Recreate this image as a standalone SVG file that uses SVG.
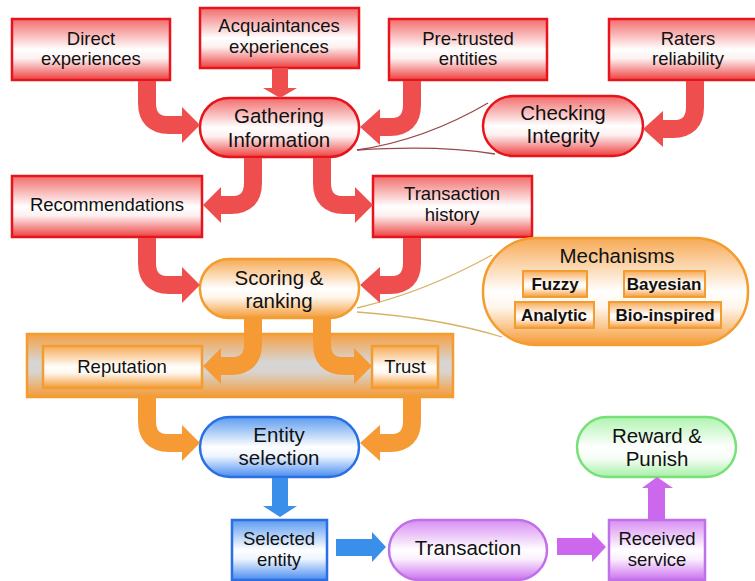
<svg xmlns="http://www.w3.org/2000/svg" width="755" height="581" viewBox="0 0 755 581">
<defs>
<linearGradient id="gRed" x1="0" y1="0" x2="0" y2="1">
<stop offset="0" stop-color="#f26c6c"/><stop offset="0.5" stop-color="#ffffff"/><stop offset="0.65" stop-color="#fdf0f0"/><stop offset="1" stop-color="#ee4040"/>
</linearGradient>
<linearGradient id="gOr" x1="0" y1="0" x2="0" y2="1">
<stop offset="0" stop-color="#f7aa55"/><stop offset="0.5" stop-color="#ffffff"/><stop offset="0.65" stop-color="#fff6ec"/><stop offset="1" stop-color="#f59a35"/>
</linearGradient>
<linearGradient id="gBand" x1="0" y1="0" x2="0" y2="1">
<stop offset="0" stop-color="#f6a044"/><stop offset="0.45" stop-color="#d6d6d6"/><stop offset="0.6" stop-color="#d8d4d0"/><stop offset="1" stop-color="#f59a35"/>
</linearGradient>
<linearGradient id="gBlue" x1="0" y1="0" x2="0" y2="1">
<stop offset="0" stop-color="#5c9cf0"/><stop offset="0.5" stop-color="#ffffff"/><stop offset="0.65" stop-color="#eef5fe"/><stop offset="1" stop-color="#4a8cf0"/>
</linearGradient>
<linearGradient id="gPur" x1="0" y1="0" x2="0" y2="1">
<stop offset="0" stop-color="#d88ef2"/><stop offset="0.5" stop-color="#ffffff"/><stop offset="0.65" stop-color="#fbf0fe"/><stop offset="1" stop-color="#cc70ee"/>
</linearGradient>
<linearGradient id="gGrn" x1="0" y1="0" x2="0" y2="1">
<stop offset="0" stop-color="#b0f4b0"/><stop offset="0.5" stop-color="#ffffff"/><stop offset="0.7" stop-color="#f4fdf4"/><stop offset="1" stop-color="#a6f0a6"/>
</linearGradient>
</defs>
<style>
text{font-family:"Liberation Sans",Arial,sans-serif;fill:#111;text-anchor:middle}
.bt{font-size:18.5px}
.pt{font-size:20.5px}
.mt{font-size:17px;font-weight:bold}
.red{fill:url(#gRed);stroke:#e8141c;stroke-width:2.5}
.or{fill:url(#gOr);stroke:#f39c2f;stroke-width:2.5}
.band{fill:url(#gBand);stroke:#f39c2f;stroke-width:2.5}
.blue{fill:url(#gBlue);stroke:#2a70e4;stroke-width:2.5}
.pur{fill:url(#gPur);stroke:#c070e8;stroke-width:2.5}
.grn{fill:url(#gGrn);stroke:#78e078;stroke-width:2.5}
.sr{fill:none;stroke:#ef4e4e;stroke-width:18}
.so{fill:none;stroke:#f59a35;stroke-width:18}
.hr{fill:#ef4e4e}
.ho{fill:#f59a35}
.hb{fill:#3a8fea}
.hp{fill:#cc68ee}
.thinr{fill:none;stroke:#9a4a4a;stroke-width:1.3}
.thino{fill:none;stroke:#d6b466;stroke-width:1.3}
</style>

<g id="direct"><rect class="red" x="12" y="19" width="158" height="61"/><text class="bt" x="91" y="45">Direct</text><text class="bt" x="91" y="65">experiences</text></g>
<g id="acquaintances"><rect class="red" x="200" y="8" width="159" height="60"/><text class="bt" x="279" y="32">Acquaintances</text><text class="bt" x="279" y="53">experiences</text></g>
<g id="pretrusted"><rect class="red" x="389" y="19" width="158" height="61"/><text class="bt" x="468" y="45">Pre-trusted</text><text class="bt" x="468" y="65">entities</text></g>
<g id="raters"><rect class="red" x="609" y="19" width="160" height="61"/><text class="bt" x="688" y="45">Raters</text><text class="bt" x="688" y="65">reliability</text></g>
<g id="gathering"><rect class="red" x="200" y="98" width="159" height="59" rx="29"/><text class="pt" x="279" y="123">Gathering</text><text class="pt" x="279" y="147">Information</text></g>
<g id="checking"><rect class="red" x="483" y="96" width="160" height="60" rx="30"/><text class="pt" x="563" y="120">Checking</text><text class="pt" x="563" y="143">Integrity</text></g>
<g id="recommendations"><rect class="red" x="12" y="176" width="190" height="61"/><text class="bt" x="107" y="211">Recommendations</text></g>
<g id="history"><rect class="red" x="373" y="176" width="159" height="61"/><text class="bt" x="452" y="200">Transaction</text><text class="bt" x="452" y="221">history</text></g>
<g id="scoring"><rect class="or" x="200" y="259" width="159" height="59" rx="29"/><text class="pt" x="279" y="285">Scoring &amp;</text><text class="pt" x="279" y="308">ranking</text></g>
<g id="mechanisms"><rect class="or" x="483" y="238" width="265" height="107" rx="53"/><text class="pt" x="617" y="263">Mechanisms</text>
<g id="fuzzy"><rect class="or" x="523" y="271" width="64" height="26" style="stroke-width:2"/><text class="mt" x="555" y="290">Fuzzy</text></g>
<g id="bayesian"><rect class="or" x="624" y="271" width="81" height="26" style="stroke-width:2"/><text class="mt" x="664" y="290">Bayesian</text></g>
<g id="analytic"><rect class="or" x="515" y="302" width="79" height="26" style="stroke-width:2"/><text class="mt" x="554" y="321">Analytic</text></g>
<g id="bioinspired"><rect class="or" x="609" y="302" width="112" height="26" style="stroke-width:2"/><text class="mt" x="665" y="321">Bio-inspired</text></g>
</g>
<g id="band"><rect class="band" x="27" y="334" width="426" height="63"/></g>
<g id="reputation"><rect class="or" x="43" y="346" width="159" height="42"/><text class="bt" x="122" y="373">Reputation</text></g>
<g id="trust"><rect class="or" x="372" y="346" width="66" height="42"/><text class="bt" x="405" y="373">Trust</text></g>
<g id="entity"><rect class="blue" x="200" y="417" width="159" height="60" rx="30"/><text class="pt" x="279" y="442">Entity</text><text class="pt" x="279" y="465">selection</text></g>
<g id="selected"><rect class="blue" x="232" y="520" width="95" height="60"/><text class="bt" x="279" y="545">Selected</text><text class="bt" x="279" y="566">entity</text></g>
<g id="transaction"><rect class="pur" x="389" y="520" width="158" height="60" rx="30"/><text class="pt" x="468" y="555">Transaction</text></g>
<g id="received"><rect class="pur" x="609" y="520" width="96" height="60"/><text class="bt" x="657" y="545">Received</text><text class="bt" x="657" y="566">service</text></g>
<g id="reward"><rect class="grn" x="577" y="417" width="159" height="60" rx="30"/><text class="pt" x="657" y="443">Reward &amp;</text><text class="pt" x="657" y="466">Punish</text></g>

<g id="connectors">
<path class="thinr" d="M357,150 Q425,140 488,103"/>
<path class="thinr" d="M357,150 Q440,145 495,154"/>
<path class="thino" d="M357,308 Q425,292 492,255"/>
<path class="thino" d="M357,312 Q440,318 502,337"/>
<!-- red -->
<path class="sr" d="M147,81 V103 Q147,125 169,125 H184"/><polygon class="hr" points="182,107 200,125 182,143"/>
<path class="sr" d="M280,68 V89" style="stroke-width:16"/><polygon class="hr" points="263,88 297,88 280,98"/>
<path class="sr" d="M412,81 V105 Q412,127 390,127 H378"/><polygon class="hr" points="380,109 360,127 380,145"/>
<path class="sr" d="M695,81 V107 Q695,129 673,129 H660"/><polygon class="hr" points="663,111 643,129 663,147"/>
<path class="sr" d="M253,158 V183 Q253,205 231,205 H219"/><polygon class="hr" points="221,187 203,205 221,223"/>
<path class="sr" d="M322,158 V183 Q322,205 344,205 H357"/><polygon class="hr" points="355,187 373,205 355,223"/>
<path class="sr" d="M147,238 V263 Q147,285 169,285 H184"/><polygon class="hr" points="182,267 200,285 182,303"/>
<path class="sr" d="M412,238 V263 Q412,285 390,285 H378"/><polygon class="hr" points="380,267 360,285 380,303"/>
<!-- orange -->
<path class="so" d="M253,319 V344 Q253,366 231,366 H219"/><polygon class="ho" points="221,348 203,366 221,384"/>
<path class="so" d="M322,319 V344 Q322,366 344,366 H356"/><polygon class="ho" points="354,348 372,366 354,384"/>
<path class="so" d="M147,398 V421 Q147,443 169,443 H184"/><polygon class="ho" points="182,425 200,443 182,461"/>
<path class="so" d="M412,398 V421 Q412,443 390,443 H378"/><polygon class="ho" points="380,425 360,443 380,461"/>
<!-- blue -->
<rect class="hb" x="272" y="478" width="16" height="30"/><polygon class="hb" points="263,506 297,506 280,517"/>
<rect class="hb" x="336" y="539" width="38" height="17"/><polygon class="hb" points="372,532 386,547 372,562"/>
<!-- purple -->
<rect class="hp" x="557" y="538" width="37" height="17"/><polygon class="hp" points="592,532 606,547 592,562"/>
<rect class="hp" x="648" y="486" width="17" height="33"/><polygon class="hp" points="642,488 673,488 657,477"/>
</g>
</svg>
